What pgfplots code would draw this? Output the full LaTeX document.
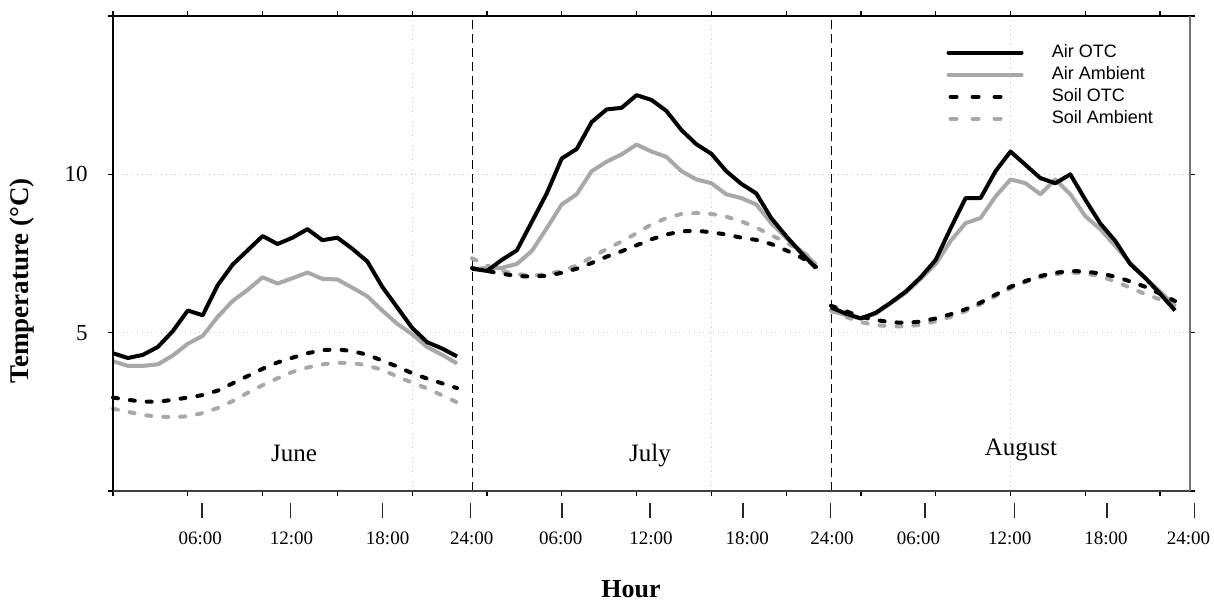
\documentclass[border=0pt]{standalone}
\usepackage{fontspec}
\setmainfont{Liberation Serif}
\newfontfamily\legfont{Liberation Sans}
\usepackage{pgfplots}
\pgfplotsset{compat=1.18}
\usepackage{pgfplotstable}

\definecolor{lgray}{RGB}{168,168,168}
\definecolor{gridc}{RGB}{205,198,205}

\pgfplotstableread{
h aotc aamb sotc samb
0 4.35 4.10 2.95 2.60
1 4.20 3.95 2.88 2.50
2 4.30 3.95 2.82 2.40
3 4.55 4.00 2.82 2.35
4 5.05 4.28 2.88 2.33
5 5.70 4.65 2.95 2.36
6 5.55 4.90 3.03 2.46
7 6.50 5.50 3.17 2.62
8 7.15 6.00 3.40 2.84
9 7.60 6.35 3.63 3.10
10 8.05 6.75 3.86 3.34
11 7.80 6.55 4.06 3.56
12 8.00 6.72 4.21 3.76
13 8.27 6.90 4.35 3.90
14 7.92 6.70 4.45 4.00
15 8.00 6.68 4.47 4.05
16 7.65 6.42 4.42 4.04
17 7.25 6.15 4.30 3.97
18 6.45 5.70 4.12 3.82
19 5.80 5.28 3.93 3.62
20 5.15 4.95 3.72 3.42
21 4.70 4.55 3.55 3.24
22 4.50 4.30 3.40 3.02
23 4.25 4.03 3.25 2.80
}\june

\pgfplotstableread{
h aotc aamb sotc samb
24 7.02 7.00 7.04 7.35
25 6.95 7.05 6.95 7.12
26 7.30 7.05 6.86 6.95
27 7.60 7.17 6.79 6.85
28 8.50 7.58 6.77 6.80
29 9.40 8.30 6.80 6.85
30 10.50 9.05 6.89 6.95
31 10.80 9.37 7.02 7.12
32 11.65 10.10 7.20 7.38
33 12.05 10.40 7.40 7.64
34 12.10 10.63 7.57 7.88
35 12.50 10.94 7.76 8.14
36 12.35 10.72 7.95 8.42
37 12.00 10.55 8.10 8.62
38 11.40 10.10 8.20 8.75
39 10.95 9.84 8.22 8.78
40 10.65 9.72 8.17 8.75
41 10.10 9.37 8.10 8.66
42 9.70 9.25 8.00 8.52
43 9.40 9.05 7.93 8.32
44 8.62 8.46 7.80 8.08
45 8.05 7.99 7.60 7.85
46 7.52 7.58 7.38 7.58
47 7.04 7.15 7.08 7.25
}\july

\pgfplotstableread{
h aotc aamb sotc samb
48 5.80 5.70 5.85 5.70
49 5.60 5.55 5.68 5.50
50 5.45 5.45 5.50 5.33
51 5.63 5.60 5.40 5.24
52 5.95 5.93 5.33 5.20
53 6.30 6.26 5.31 5.20
54 6.75 6.70 5.35 5.25
55 7.30 7.17 5.45 5.36
56 8.30 7.90 5.58 5.50
57 9.25 8.46 5.74 5.68
58 9.25 8.62 5.95 5.90
59 10.10 9.30 6.20 6.15
60 10.72 9.84 6.45 6.40
61 10.30 9.72 6.63 6.60
62 9.88 9.37 6.79 6.75
63 9.72 9.84 6.89 6.85
64 10.00 9.37 6.95 6.90
65 9.20 8.68 6.93 6.87
66 8.45 8.27 6.87 6.78
67 7.90 7.74 6.77 6.62
68 7.17 7.20 6.62 6.42
69 6.73 6.73 6.45 6.22
70 6.23 6.30 6.23 6.05
71 5.70 5.85 6.00 5.85
}\august

\begin{document}
\begin{tikzpicture}
\useasboundingbox (-56.5pt,-55pt) rectangle (550.5pt,245.5pt);
\begin{axis}[
  at={(0pt,0pt)}, anchor=south west,
  scale only axis, width=538.5pt, height=237.5pt,
  xmin=0, xmax=72, ymin=0, ymax=15,
  clip=false,
  axis line style={draw=none},
  xtick={0,5,...,70}, xticklabels={},
  ytick={0,5,10,15}, yticklabels={,5,10,},
  tick align=outside, major tick length=2.5pt,
  tick style={black, line width=0.6pt},
  ymajorgrids,
  grid style={gridc, dotted, line width=0.5pt},
  extra x ticks={20,40,60}, extra x tick labels={},
  extra x tick style={grid=major, major tick length=0pt},
  yticklabel style={font=\fontsize{11.5}{13}\selectfont, inner sep=0pt, xshift=-10pt},
  legend style={at={(0.768,0.955)}, anchor=north west, draw=none, fill=none,
    font=\legfont\fontsize{9}{10}\selectfont, row sep=0pt,
    nodes={inner sep=1.2pt, text height=6.8pt, text depth=1.8pt},
    /tikz/every odd column/.append style={column sep=13pt}},
  legend cell align=left,
]
% panel separators
\draw[black, line width=0.5pt, dash pattern=on 4.5pt off 2.5pt] (axis cs:24,0) -- (axis cs:24,15);
\draw[black, line width=0.5pt, dash pattern=on 4.5pt off 2.5pt] (axis cs:48,0) -- (axis cs:48,15);

% data
\addplot[lgray, line width=2pt, line cap=round, dash pattern=on 2.5pt off 6pt, forget plot] table[x=h,y=samb]{\june};
\addplot[lgray, line width=2pt, line cap=round, dash pattern=on 2.5pt off 6pt, forget plot] table[x=h,y=samb]{\july};
\addplot[lgray, line width=2pt, line cap=round, dash pattern=on 2.5pt off 6pt, forget plot] table[x=h,y=samb]{\august};
\addplot[lgray, line width=2pt, line join=round, forget plot] table[x=h,y=aamb]{\june};
\addplot[lgray, line width=2pt, line join=round, forget plot] table[x=h,y=aamb]{\july};
\addplot[lgray, line width=2pt, line join=round, forget plot] table[x=h,y=aamb]{\august};
\addplot[black, line width=2pt, line cap=round, dash pattern=on 2.5pt off 6pt, forget plot] table[x=h,y=sotc]{\june};
\addplot[black, line width=2pt, line cap=round, dash pattern=on 2.5pt off 6pt, forget plot] table[x=h,y=sotc]{\july};
\addplot[black, line width=2pt, line cap=round, dash pattern=on 2.5pt off 6pt, forget plot] table[x=h,y=sotc]{\august};
\addplot[black, line width=2pt, line join=round, forget plot] table[x=h,y=aotc]{\june};
\addplot[black, line width=2pt, line join=round, forget plot] table[x=h,y=aotc]{\july};
\addplot[black, line width=2pt, line join=round, forget plot] table[x=h,y=aotc]{\august};

% legend
\addlegendimage{legend image code/.code={\draw[black,line width=2pt,line cap=round] (0pt,0pt)--(36.5pt,0pt);}}
\addlegendentry{Air OTC}
\addlegendimage{legend image code/.code={\draw[lgray,line width=2pt,line cap=round] (0pt,0pt)--(36.5pt,0pt);}}
\addlegendentry{Air Ambient}
\addlegendimage{legend image code/.code={\draw[black,line width=2pt,line cap=round,dash pattern=on 3pt off 8pt] (1pt,0pt)--(29pt,0pt); \path (0pt,0pt) (36.5pt,0pt);}}
\addlegendentry{Soil OTC}
\addlegendimage{legend image code/.code={\draw[lgray,line width=2pt,line cap=round,dash pattern=on 3pt off 8pt] (1pt,0pt)--(29pt,0pt); \path (0pt,0pt) (36.5pt,0pt);}}
\addlegendentry{Soil Ambient}

% frame
\draw[black, line width=1pt] (rel axis cs:0,0) -- (rel axis cs:0,1) -- (rel axis cs:1,1);
\draw[black!75, line width=1pt] (rel axis cs:0,0) -- (rel axis cs:1,0);
\draw[black!55, line width=1pt] (rel axis cs:1,0) -- (rel axis cs:1,1);

% month names
\node[font=\fontsize{12.5}{14}\selectfont] at (axis cs:12.1,1.2) {June};
\node[font=\fontsize{12.5}{14}\selectfont] at (axis cs:35.9,1.13) {July};
\node[font=\fontsize{12.5}{14}\selectfont] at (axis cs:60.7,1.29) {August};

% hour marks and labels
\draw[black!85, line width=0.8pt] (axis cs:5.96,0) ++(0,-6pt) -- ++(0,-7.5pt);
\draw[black!85, line width=0.8pt] (axis cs:11.86,0) ++(0,-6pt) -- ++(0,-7.5pt);
\draw[black!85, line width=0.8pt] (axis cs:18.02,0) ++(0,-6pt) -- ++(0,-7.5pt);
\draw[black!85, line width=0.8pt] (axis cs:23.91,0) ++(0,-6pt) -- ++(0,-7.5pt);
\draw[black!85, line width=0.8pt] (axis cs:30.0,0) ++(0,-6pt) -- ++(0,-7.5pt);
\draw[black!85, line width=0.8pt] (axis cs:35.9,0) ++(0,-6pt) -- ++(0,-7.5pt);
\draw[black!85, line width=0.8pt] (axis cs:42.13,0) ++(0,-6pt) -- ++(0,-7.5pt);
\draw[black!85, line width=0.8pt] (axis cs:47.96,0) ++(0,-6pt) -- ++(0,-7.5pt);
\draw[black!85, line width=0.8pt] (axis cs:54.3,0) ++(0,-6pt) -- ++(0,-7.5pt);
\draw[black!85, line width=0.8pt] (axis cs:60.28,0) ++(0,-6pt) -- ++(0,-7.5pt);
\draw[black!85, line width=0.8pt] (axis cs:66.44,0) ++(0,-6pt) -- ++(0,-7.5pt);
\draw[black!85, line width=0.8pt] (axis cs:72.3,0) ++(0,-6pt) -- ++(0,-7.5pt);
\node[font=\fontsize{9.5}{11}\selectfont, yshift=-23.5pt] at (axis cs:5.83,0) {06:00};
\node[font=\fontsize{9.5}{11}\selectfont, yshift=-23.5pt] at (axis cs:11.93,0) {12:00};
\node[font=\fontsize{9.5}{11}\selectfont, yshift=-23.5pt] at (axis cs:18.36,0) {18:00};
\node[font=\fontsize{9.5}{11}\selectfont, yshift=-23.5pt] at (axis cs:23.98,0) {24:00};
\node[font=\fontsize{9.5}{11}\selectfont, yshift=-23.5pt] at (axis cs:29.94,0) {06:00};
\node[font=\fontsize{9.5}{11}\selectfont, yshift=-23.5pt] at (axis cs:35.97,0) {12:00};
\node[font=\fontsize{9.5}{11}\selectfont, yshift=-23.5pt] at (axis cs:42.4,0) {18:00};
\node[font=\fontsize{9.5}{11}\selectfont, yshift=-23.5pt] at (axis cs:48.06,0) {24:00};
\node[font=\fontsize{9.5}{11}\selectfont, yshift=-23.5pt] at (axis cs:53.85,0) {06:00};
\node[font=\fontsize{9.5}{11}\selectfont, yshift=-23.5pt] at (axis cs:59.95,0) {12:00};
\node[font=\fontsize{9.5}{11}\selectfont, yshift=-23.5pt] at (axis cs:66.38,0) {18:00};
\node[font=\fontsize{9.5}{11}\selectfont, yshift=-23.5pt] at (axis cs:71.9,0) {24:00};
\end{axis}
\node[rotate=90, font=\bfseries\fontsize{13.5}{15}\selectfont] at (-45.5pt,105pt) {Temperature (°C)};
\node[font=\bfseries\fontsize{13}{15}\selectfont] at (259pt,-49pt) {Hour};
\end{tikzpicture}
\end{document}
